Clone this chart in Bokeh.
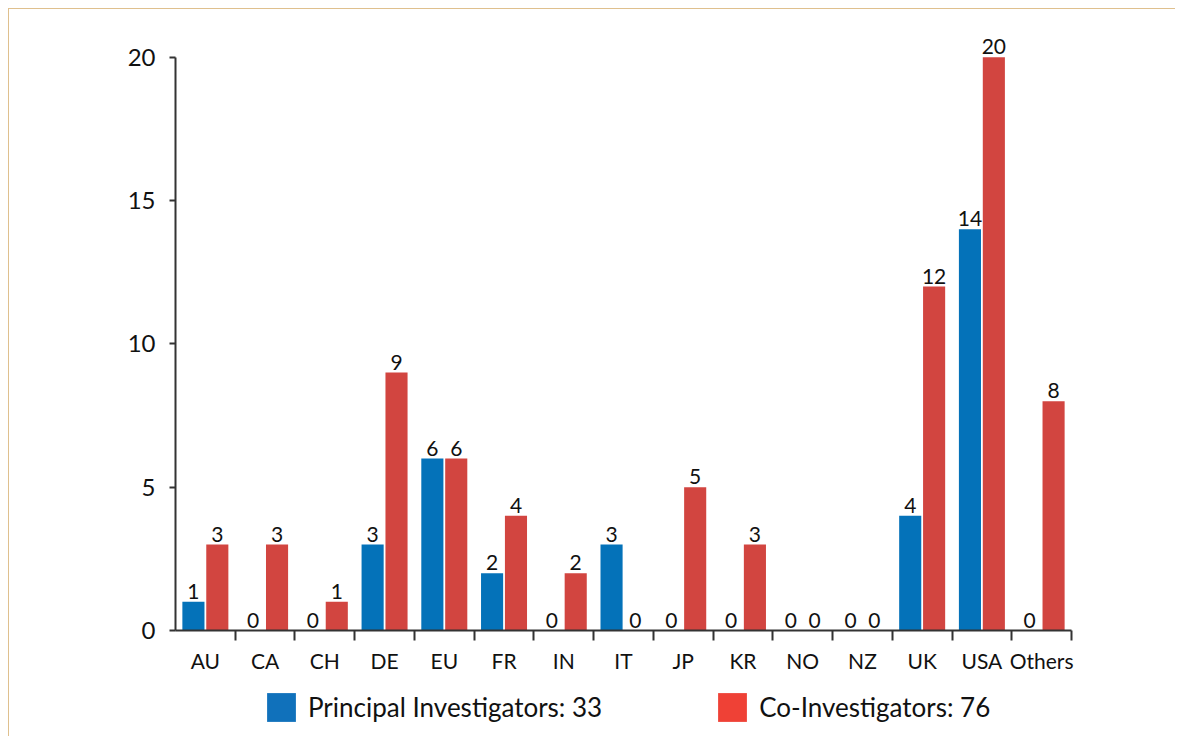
import numpy as np
from bokeh.plotting import figure
from bokeh.layouts import column
from bokeh.models import (ColumnDataSource, Range1d, FixedTicker, Legend, LegendItem)
from bokeh.core.properties import value
from bokeh.embed import file_html
from bokeh.resources import INLINE

categories = ["AU", "CA", "CH", "DE", "EU", "FR", "IN", "IT", "JP", "KR", "NO", "NZ", "UK", "USA", "Others"]
principal = [1, 0, 0, 3, 6, 2, 0, 3, 0, 0, 0, 0, 4, 14, 0]
co_investigators = [3, 3, 1, 9, 6, 4, 2, 0, 5, 3, 0, 0, 12, 20, 8]
y_ticks = [0, 5, 10, 15, 20]

FONT = "Lato"
BLUE = "#0472B9"
RED = "#D24540"
LEG_BLUE = "#1071BB"
LEG_RED = "#EF4136"
AXIS = "#333333"
FRAME_LINE = "#DFC08E"
LINE = f"linear-gradient({FRAME_LINE}, {FRAME_LINE})"

n = len(categories)
centers = np.arange(n) + 0.5
boundaries = list(np.arange(1, n + 1).astype(float))
off = 0.2
bw = 0.37

src_pi = ColumnDataSource(dict(x=centers - off, top=principal,
                               lab=[str(v) for v in principal]))
src_co = ColumnDataSource(dict(x=centers + off, top=co_investigators,
                               lab=[str(v) for v in co_investigators]))

p_chart = figure(width=1175, height=680, output_backend="svg", toolbar_location=None,
                 x_range=Range1d(0, n), y_range=Range1d(0, 21),
                 min_border_left=175, min_border_right=104, min_border_top=28,
                 min_border_bottom=50)
p_chart.styles = {
    "background": (f"{LINE} 8px 8px / 1px 100% no-repeat, "
                   f"{LINE} 8px 8px / 100% 1px no-repeat, white"),
}
p_chart.grid.visible = False
p_chart.outline_line_color = None
p_chart.background_fill_color = "white"
p_chart.border_fill_color = None

p_chart.vbar(x="x", top="top", width=bw, source=src_pi, fill_color=BLUE, line_color=None)
p_chart.vbar(x="x", top="top", width=bw, source=src_co, fill_color=RED, line_color=None)

for s in (src_pi, src_co):
    p_chart.text(x="x", y="top", text="lab", source=s, text_align="center",
                 text_baseline="bottom", y_offset=-3, text_font=value(FONT),
                 text_font_size="21px", text_color="#111111")

# X axis: labels at category centres, boundary ticks as minor ticks
xa = p_chart.xaxis[0]
xa.ticker = FixedTicker(ticks=list(centers), minor_ticks=boundaries)
xa.major_label_overrides = {float(c): cat for c, cat in zip(centers, categories)}
xa.major_tick_line_color = None
xa.major_tick_out = 0
xa.major_tick_in = 0
xa.minor_tick_out = 10
xa.minor_tick_in = 0
xa.minor_tick_line_color = AXIS
xa.minor_tick_line_width = 2
xa.axis_line_color = AXIS
xa.axis_line_width = 2
xa.major_label_text_font = FONT
xa.major_label_text_font_size = "21px"
xa.major_label_text_color = "#111111"
xa.major_label_standoff = 7

ya = p_chart.yaxis[0]
ya.ticker = FixedTicker(ticks=y_ticks)
ya.bounds = (0, 20)
ya.major_tick_out = 6
ya.major_tick_in = 0
ya.minor_tick_line_color = None
ya.major_tick_line_color = AXIS
ya.major_tick_line_width = 2
ya.axis_line_color = AXIS
ya.axis_line_width = 2
ya.major_label_text_font = FONT
ya.major_label_text_font_size = "24px"
ya.major_label_text_color = "#111111"
ya.major_label_standoff = 14

# Legend strip below the chart
p_leg = figure(width=1175, height=56, output_backend="svg", toolbar_location=None,
               x_range=Range1d(0, n), y_range=Range1d(0, 1),
               x_axis_type=None, y_axis_type=None,
               min_border_left=0, min_border_right=0, min_border_top=0, min_border_bottom=0)
p_leg.styles = {"background": f"{LINE} 8px 0px / 1px 100% no-repeat, white"}
p_leg.grid.visible = False
p_leg.outline_line_color = None
p_leg.background_fill_alpha = 0
p_leg.border_fill_color = None

leg_pi = p_leg.vbar(x="x", top="top", width=bw, source=src_pi, fill_color=LEG_BLUE,
                    line_color=None, visible=False)
leg_co = p_leg.vbar(x="x", top="top", width=bw, source=src_co, fill_color=LEG_RED,
                    line_color=None, visible=False)

legend = Legend(items=[
    LegendItem(label=f"Principal Investigators: {sum(principal)}", renderers=[leg_pi]),
    LegendItem(label=f"Co-Investigators: {sum(co_investigators)}", renderers=[leg_co]),
], orientation="horizontal", location=(88, 11))
legend.glyph_width = 36
legend.glyph_height = 36
legend.label_standoff = 9
legend.spacing = 112
legend.padding = 10
legend.margin = 0
legend.border_line_color = None
legend.background_fill_alpha = 0
legend.inactive_fill_alpha = 0
legend.click_policy = "none"
legend.label_text_font = FONT
legend.label_text_font_size = "26px"
legend.label_text_color = "#111111"
p_leg.add_layout(legend, "center")

p = column(p_chart, p_leg, spacing=0)

open("out.html", "w").write(file_html(p, INLINE))
